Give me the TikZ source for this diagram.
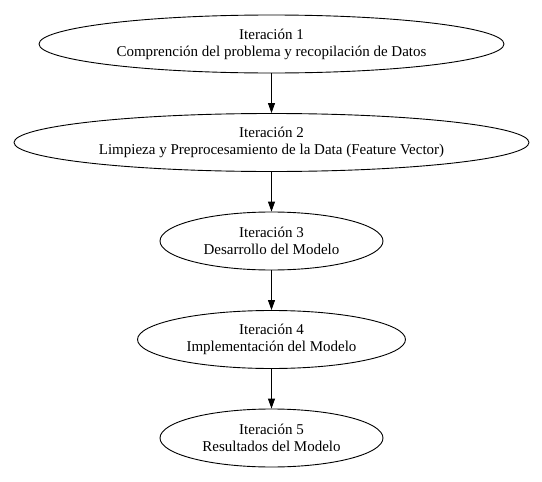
\documentclass[tikz,border=0pt]{standalone}
\usepackage{fontspec}
\setmainfont{Liberation Serif}
\usepackage{tikz}
\usepackage{xcolor}
\usetikzlibrary{shapes,arrows,arrows.meta,positioning,shapes.geometric}

\begin{document}
\begin{tikzpicture}[node distance=98.5pt, x=1pt, y=1pt,
    iter/.style={draw, ellipse, line width=0.9pt, inner sep=0pt, minimum height=58pt, align=center, font=\fontsize{15}{17}\selectfont},
    flow/.style={-{Triangle[length=10pt,width=7pt]}, line width=0.9pt}]
    \useasboundingbox (0,0) rectangle (542,-482);

    % Iterations
    \node[iter, minimum width=465pt] (it1) at (271.5,-44) {Iteración 1\\Comprención del problema y recopilación de Datos};

    \node[iter, below of=it1, minimum width=515pt] (it2) {Iteración 2\\Limpieza y Preprocesamiento de la Data (Feature Vector)};
    \node[iter, below of=it2, minimum width=223pt] (it3) {Iteración 3\\Desarrollo del Modelo};
    \node[iter, below of=it3, minimum width=268pt] (it4) {Iteración 4\\Implementación del Modelo};
    \node[iter, below of=it4, minimum width=223pt] (it5) {Iteración 5\\Resultados del Modelo};

    \draw[flow] (it1) -- (it2);
    \draw[flow] (it2) -- (it3);
    \draw[flow] (it3) -- (it4);
    \draw[flow] (it4) -- (it5);

\end{tikzpicture}
\end{document}
